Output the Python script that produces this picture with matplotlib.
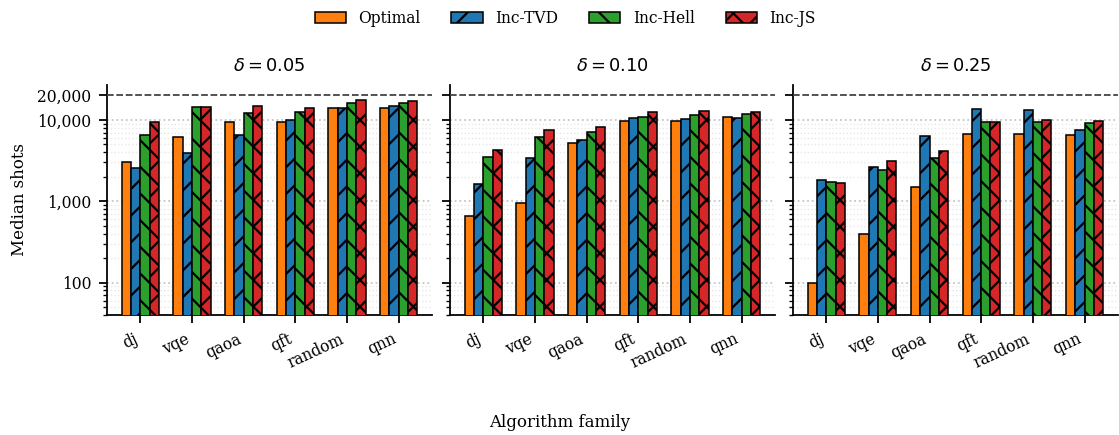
import numpy as np
import matplotlib
matplotlib.use("Agg")
import matplotlib.pyplot as plt
from matplotlib.ticker import FixedLocator, FuncFormatter, LogLocator, NullFormatter


# median shots, one list per method and delta
families = ['dj', 'vqe', 'qaoa', 'qft', 'random', 'qnn']
deltas = ['0.05', '0.10', '0.25']
methods = ['Optimal', 'Inc-TVD', 'Inc-Hell', 'Inc-JS']

optimal_005 = [3080, 6240, 9450, 9540, 14050, 14200]
tvd_005     = [2550, 3930, 6600, 9900, 14200, 15000]
hell_005    = [6550, 14300, 12200, 12540, 16000, 16000]
js_005      = [9360, 14300, 14860, 13900, 17450, 17150]

optimal_010 = [655, 944, 5260, 9630, 9720, 10790]
tvd_010     = [1617, 3410, 5680, 10480, 10190, 10690]
hell_010    = [3475, 6120, 7050, 10790, 11520, 11970]
js_010      = [4240, 7540, 8200, 12420, 12780, 12540]

optimal_025 = [100, 400, 1500, 6790, 6670, 6550]
tvd_025     = [1812, 2620, 6300, 13520, 13150, 7470]
hell_025    = [1713, 2430, 3380, 9360, 9360, 9100]
js_025      = [1665, 3130, 4120, 9450, 9900, 9810]

shot_budget = 20000

panels = [
	[optimal_005, tvd_005, hell_005, js_005],
	[optimal_010, tvd_010, hell_010, js_010],
	[optimal_025, tvd_025, hell_025, js_025],
]

colors  = ['#ff7f0e', '#1f77b4', '#2ca02c', '#d62728']
hatches = ['', '//', '\\\\', 'xx']

plt.rcParams['font.family'] = 'DejaVu Serif'
plt.rcParams['mathtext.fontset'] = 'dejavusans'
plt.rcParams['hatch.linewidth'] = 1.0

fig, axes = plt.subplots(1, 3, figsize=(1119/160, 435/160), dpi=160, sharey=True)
fig.subplots_adjust(left=0.0956, right=0.999, bottom=0.276, top=0.805, wspace=0.055)

x = np.arange(len(families))
width = 0.18

for i, ax in enumerate(axes):
	for j, vals in enumerate(panels[i]):
		ax.bar(x + (j - 1.5) * width, vals, width, color=colors[j], hatch=hatches[j],
		       edgecolor='black', linewidth=0.7, label=methods[j], zorder=3)
	ax.axhline(shot_budget, color='#444444', linestyle='--', linewidth=0.8, zorder=4)
	ax.set_yscale('log')
	ax.set_ylim(40, 27000)
	ax.yaxis.set_major_locator(FixedLocator([100, 1000, 10000, 20000]))
	ax.yaxis.set_minor_locator(LogLocator(base=10, subs=np.arange(2, 10)))
	ax.yaxis.set_major_formatter(FuncFormatter(lambda v, p: '{:,.0f}'.format(v)))
	ax.yaxis.set_minor_formatter(NullFormatter())
	ax.grid(axis='y', which='major', linestyle=':', color='#c4c4c4', linewidth=0.8, zorder=0)
	ax.grid(axis='y', which='minor', linestyle=':', color='#e6e6e6', linewidth=0.6, zorder=0)
	ax.set_xticks(x)
	ax.set_xticklabels(families, rotation=25, ha='right')
	ax.set_title(r'$\delta = {}$'.format(deltas[i]), fontsize=8)
	ax.spines['top'].set_visible(False)
	ax.spines['right'].set_visible(False)
	ax.tick_params(axis='both', which='major', labelsize=7, length=3.5, width=0.8)
	ax.tick_params(axis='y', which='minor', length=2, width=0.6)
	#ax.set_xlabel('')

axes[0].set_ylabel('Median shots', fontsize=7.5)
fig.supxlabel('Algorithm family', fontsize=7.5, y=0.01)

handles, labels = axes[0].get_legend_handles_labels()
fig.legend(handles, labels, loc='upper center', ncol=4, frameon=False, fontsize=7,
           bbox_to_anchor=(0.505, 1.01), handlelength=2.0, columnspacing=2.0)

fig.savefig('out.png', dpi=160)
